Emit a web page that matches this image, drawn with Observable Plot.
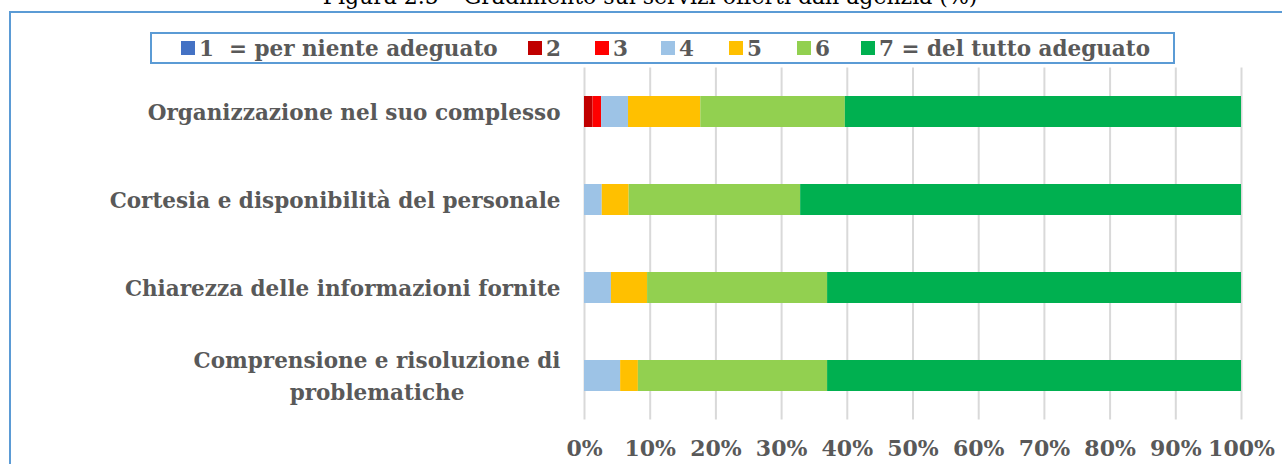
<!DOCTYPE html>
<html>
<head>
<meta charset="utf-8">
<script src="https://cdn.jsdelivr.net/npm/d3@7"></script>
<script src="https://cdn.jsdelivr.net/npm/@observablehq/plot@0.6"></script>
<style>
  html, body { margin: 0; padding: 0; background: #fff; overflow: hidden; }
  body { width: 1282px; height: 464px; position: relative; font-family: "DejaVu Serif", serif; }
  #title { position: absolute; left: 0; width: 1300px; top: -16px; text-align: center; font-size: 22px; color: #000; white-space: nowrap; }
  #frame { position: absolute; left: 9px; top: 11px; width: 1300px; height: 500px; border: 2px solid #5b9bd5; box-sizing: border-box; }
  #legend { position: absolute; left: 150px; top: 32px; width: 1025px; height: 32px; border: 2px solid #5b9bd5; box-sizing: border-box; background: #fff; z-index: 2; }
  .item { position: absolute; top: 0; height: 28px; display: flex; align-items: center; font-weight: bold; font-size: 21.5px; color: #595959; white-space: pre; }
  .sw { width: 14px; height: 14px; margin-right: 4px; }
  #chart { position: absolute; left: 0; top: 0; }
</style>
</head>
<body>
<div id="title">Figura 2.5 – Gradimento sui servizi offerti dall’agenzia (%)</div>
<div id="frame"></div>
<div id="legend"></div>
<div id="chart"></div>
<script>
const categories = [
  "Organizzazione nel suo complesso",
  "Cortesia e disponibilità del personale",
  "Chiarezza delle informazioni fornite",
  "Comprensione e risoluzione di\nproblematiche"
];
const seriesKeys = ["1", "2", "3", "4", "5", "6", "7"];
const seriesLabels = ["1  = per niente adeguato", "2", "3", "4", "5", "6", "7 = del tutto adeguato"];
const seriesColors = ["#4472c4", "#c00000", "#ff0000", "#9dc3e6", "#ffc000", "#92d050", "#00b050"];
// values per category, in series order 1..7 (%)
const v1 = [0.0, 0.0, 0.0, 0.0];
const v2 = [1.3, 0.0, 0.0, 0.0];
const v3 = [1.3, 0.0, 0.0, 0.0];
const v4 = [4.1, 2.7, 4.1, 5.5];
const v5 = [11.0, 4.1, 5.5, 2.7];
const v6 = [22.0, 26.1, 27.4, 28.8];
const v7 = [60.3, 67.1, 63.0, 63.0];
const xTicks = [0, 10, 20, 30, 40, 50, 60, 70, 80, 90, 100];

const seriesValues = [v1, v2, v3, v4, v5, v6, v7];
const data = [];
categories.forEach((c, i) => {
  seriesKeys.forEach((s, j) => {
    data.push({category: c, series: s, value: seriesValues[j][i]});
  });
});

// legend
const legendX = [29, 376, 443, 509, 577, 645, 709];
const legend = document.getElementById("legend");
seriesKeys.forEach((s, j) => {
  const it = document.createElement("div");
  it.className = "item";
  it.style.left = legendX[j] + "px";
  const sw = document.createElement("div");
  sw.className = "sw";
  sw.style.background = seriesColors[j];
  it.appendChild(sw);
  const t = document.createElement("span");
  t.textContent = seriesLabels[j];
  it.appendChild(t);
  legend.appendChild(it);
});

const chart = Plot.plot({
  width: 1282,
  height: 464,
  marginLeft: 584,
  marginRight: 41,
  marginTop: 67.5,
  marginBottom: 44.5,
  style: {fontFamily: "DejaVu Serif, serif", background: "transparent", overflow: "visible"},
  x: {domain: [0, 100], axis: null},
  y: {domain: categories, paddingInner: 0.65, paddingOuter: 0.325, align: 0.5, axis: null},
  color: {domain: seriesKeys, range: seriesColors},
  marks: [
    Plot.ruleX(xTicks, {stroke: "#d9d9d9", strokeWidth: 2}),
    Plot.barX(data, Plot.stackX({x: "value", y: "category", fill: "series", order: seriesKeys, inset: 0})),
    Plot.axisX(xTicks, {
      tickSize: 0, tickPadding: 20, tickFormat: d => d + "%",
      fontSize: 22, fontWeight: "bold", fill: "#595959", label: null
    }),
    Plot.axisY({
      tickSize: 0, tickPadding: 24, fontSize: 21.5, fontWeight: "bold",
      fill: "#595959", label: null, lineHeight: 1.5, dy: -2.5
    })
  ]
});
document.getElementById("chart").appendChild(chart);

// center multi-line category labels within their block (right-aligned block)
d3.select(chart).selectAll("g[aria-label='y-axis tick label'] text").each(function() {
  const tspans = this.querySelectorAll("tspan");
  if (tspans.length > 1) {
    const w = this.getBBox().width;
    this.setAttribute("text-anchor", "middle");
    tspans.forEach(ts => ts.setAttribute("x", -w / 2));
  }
});
</script>
</body>
</html>
